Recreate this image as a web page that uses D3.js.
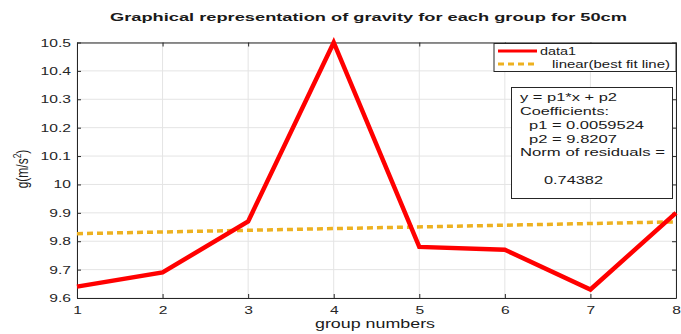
<!DOCTYPE html>
<html>
<head>
<meta charset="utf-8">
<script src="https://cdn.jsdelivr.net/npm/d3@7"></script>
<style>
  body { margin: 0; background: #fff; }
  text { font-family: "Liberation Sans", Arial, sans-serif; }
</style>
</head>
<body>
<svg id="chart" width="681" height="334"></svg>
<script>
// data
var groups = [1, 2, 3, 4, 5, 6, 7, 8];
var gravity = [9.64, 9.69, 9.87, 10.5, 9.78, 9.77, 9.63, 9.90];
var yTicks = [9.6, 9.7, 9.8, 9.9, 10, 10.1, 10.2, 10.3, 10.4, 10.5];
var fitP1 = 0.0059524;
var fitP2 = 9.8207;
var fitText = ["y = p1*x + p2", "Coefficients:", "p1 = 0.0059524", "p2 = 9.8207", "Norm of residuals =", "", "0.74382"];

var svg = d3.select("#chart");
// plot box ("top" is taken by window.top, so plotTop)
var plotLeft = 77, plotRight = 676, plotTop = 42.5, plotBottom = 298;
var SX = 1.42; // the reference is stretched sideways

var x = d3.scaleLinear().domain([1, 8]).range([plotLeft, plotRight]);
var y = d3.scaleLinear().domain([9.6, 10.5]).range([plotBottom, plotTop]);

// grid
svg.append("g").selectAll("line").data(groups).enter().append("line")
  .attr("x1", function (d) { return x(d); }).attr("x2", function (d) { return x(d); })
  .attr("y1", plotTop).attr("y2", plotBottom)
  .attr("stroke", "#e4e4e4").attr("stroke-width", 1);
svg.append("g").selectAll("line").data(yTicks).enter().append("line")
  .attr("y1", function (d) { return y(d); }).attr("y2", function (d) { return y(d); })
  .attr("x1", plotLeft).attr("x2", plotRight)
  .attr("stroke", "#e4e4e4").attr("stroke-width", 1);

// axes
var xAxis = d3.axisBottom(x).tickValues(groups).tickSizeInner(-4).tickSizeOuter(0).tickPadding(8)
  .tickFormat(d3.format("d"));
var yAxis = d3.axisLeft(y).tickValues(yTicks).tickSizeInner(-4).tickSizeOuter(0)
  .tickFormat(function (d) { return String(+d.toFixed(1)); });

var gx = svg.append("g").attr("transform", "translate(0," + plotBottom + ")").call(xAxis);
var gy = svg.append("g").attr("transform", "translate(" + plotLeft + ",0)").call(yAxis);
svg.append("g").attr("transform", "translate(0," + plotTop + ")")
  .call(d3.axisTop(x).tickValues(groups).tickSizeInner(-4).tickSizeOuter(0).tickFormat(""));
svg.append("g").attr("transform", "translate(" + plotRight + ",0)")
  .call(d3.axisRight(y).tickValues(yTicks).tickSizeInner(-4).tickSizeOuter(0).tickFormat(""));

svg.selectAll(".domain").attr("stroke", "#262626");
svg.selectAll(".tick line").attr("stroke", "#262626");
svg.selectAll(".tick text").attr("fill", "#262626").style("font-size", "11px")
  .style("font-family", "Liberation Sans, Arial, sans-serif");
gx.selectAll(".tick text").attr("transform", "scale(" + SX + ",1)");
gy.selectAll(".tick text").attr("x", 0).attr("transform", "translate(-6,0) scale(" + SX + ",1)");

// best fit line
svg.append("line")
  .attr("x1", x(1)).attr("y1", y(fitP2 + fitP1 * 1))
  .attr("x2", x(8)).attr("y2", y(fitP2 + fitP1 * 8))
  .attr("stroke", "#EDB120").attr("stroke-width", 3.5)
  .attr("stroke-dasharray", "6,4");

// data line
var line = d3.line()
  .x(function (d, i) { return x(groups[i]); })
  .y(function (d) { return y(d); });
svg.append("path").datum(gravity)
  .attr("d", line)
  .attr("fill", "none")
  .attr("stroke", "#ff0000")
  .attr("stroke-width", 4.5)
  .attr("stroke-linejoin", "miter");

// text stretched to a given width
function wideText(str, x0, yb, width, size, bold) {
  return svg.append("text").attr("x", x0).attr("y", yb)
    .attr("textLength", width).attr("lengthAdjust", "spacingAndGlyphs")
    .style("font-size", size + "px").style("font-weight", bold ? "bold" : "normal")
    .attr("fill", "#1a1a1a").text(str);
}

wideText("Graphical representation of gravity for each group for 50cm", 110, 20.5, 517, 11.5, true);
wideText("group numbers", 315, 328, 120, 12);

var yl = svg.append("text").attr("transform", "translate(28,169) rotate(-90) scale(1,1.35)")
  .attr("text-anchor", "middle").style("font-size", "12px").attr("fill", "#1a1a1a");
yl.append("tspan").text("g(m/s");
yl.append("tspan").attr("dy", -5).style("font-size", "8.5px").text("2");
yl.append("tspan").attr("dy", 5).text(")");

// legend
svg.append("rect").attr("x", 494).attr("y", 43.5).attr("width", 182).attr("height", 28)
  .attr("fill", "#fff").attr("stroke", "#262626").attr("stroke-width", 1);
svg.append("line").attr("x1", 498).attr("x2", 537).attr("y1", 51).attr("y2", 51)
  .attr("stroke", "#ff0000").attr("stroke-width", 3);
wideText("data1", 540, 55, 36, 11);
svg.append("line").attr("x1", 498).attr("x2", 535).attr("y1", 64).attr("y2", 64)
  .attr("stroke", "#EDB120").attr("stroke-width", 3).attr("stroke-dasharray", "6,4");
wideText("linear(best fit line)", 552, 67.5, 118, 11);

// fit results box
svg.append("rect").attr("x", 511.5).attr("y", 87.5).attr("width", 161).attr("height", 111)
  .attr("fill", "#fff").attr("stroke", "#262626").attr("stroke-width", 1);
var boxX = [520, 520, 529, 529, 520, 520, 544];
var boxW = [97, 89, 115, 88, 145, 0, 59];
fitText.forEach(function (s, i) {
  if (s) wideText(s, boxX[i], 101 + i * 13.85, boxW[i], 11);
});
</script>
</body>
</html>
